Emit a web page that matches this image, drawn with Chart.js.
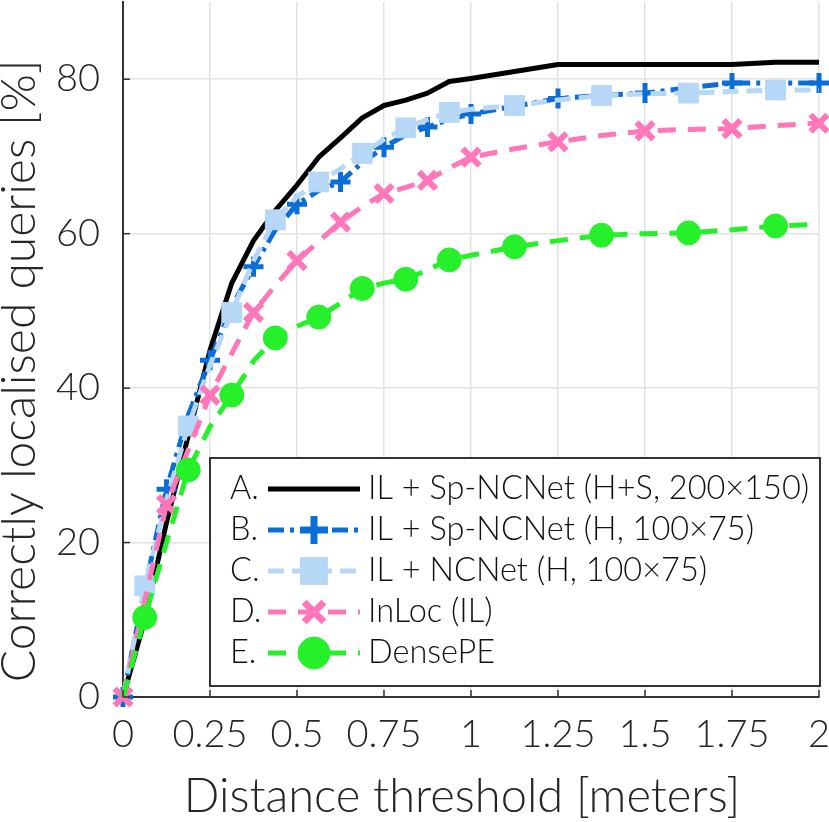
<!DOCTYPE html>
<html>
<head>
<meta charset="utf-8">
<script src="https://cdn.jsdelivr.net/npm/chart.js@4.4.1/dist/chart.umd.min.js"></script>
<style>
  html, body { margin: 0; padding: 0; background: #ffffff; }
  #wrap { width: 829px; height: 822px; }
</style>
</head>
<body>
<div id="wrap"><canvas id="c" width="829" height="822"></canvas></div>
<script>
// ---- data ----
const thresholds = [0, 0.0625, 0.125, 0.1875, 0.25, 0.3125, 0.375, 0.4375, 0.5, 0.5625, 0.625, 0.6875, 0.75, 0.8125, 0.875, 0.9375, 1, 1.125, 1.25, 1.375, 1.5, 1.625, 1.75, 1.875, 2];
const seriesA = [0, 10.0, 22.6, 33.8, 44.9, 53.6, 59.1, 63.0, 66.3, 69.9, 72.4, 75.0, 76.6, 77.3, 78.2, 79.7, 80.1, 81.0, 81.9, 81.9, 81.9, 81.9, 81.9, 82.2, 82.2];
const seriesB = [0, 14.0, 26.9, 36.5, 43.6, 50.5, 55.7, 60.5, 63.8, 65.6, 66.7, 69.2, 71.2, 72.8, 73.8, 74.8, 75.5, 76.5, 77.5, 77.9, 78.2, 78.9, 79.5, 79.5, 79.5];
const seriesC = [0, 14.4, 25.5, 35.1, 43.0, 49.8, 56.5, 61.8, 64.8, 66.7, 68.4, 70.4, 72.2, 73.7, 74.8, 75.7, 76.1, 76.6, 77.3, 77.9, 78.1, 78.2, 78.4, 78.6, 78.6];
const seriesD = [0, 12.5, 24.9, 32.0, 39.1, 44.5, 49.8, 53.3, 56.5, 59.0, 61.5, 63.5, 65.2, 66.0, 66.9, 68.5, 69.9, 71.0, 71.9, 72.7, 73.3, 73.5, 73.6, 74.0, 74.3];
const seriesE = [0, 10.3, 20.0, 29.4, 35.0, 39.1, 43.5, 46.5, 48.0, 49.2, 51.0, 52.9, 53.6, 54.1, 55.3, 56.6, 57.2, 58.3, 59.1, 59.8, 60.0, 60.1, 60.5, 61.0, 61.2];
const seriesLabels = ['IL + Sp-NCNet (H+S, 200\u00d7150)', 'IL + Sp-NCNet (H, 100\u00d775)', 'IL + NCNet (H, 100\u00d775)', 'InLoc (IL)', 'DensePE'];
const seriesLetters = ['A.', 'B.', 'C.', 'D.', 'E.'];
const xTickLabels = ['0', '0.25', '0.5', '0.75', '1', '1.25', '1.5', '1.75', '2'];
const yTickLabels = ['0', '20', '40', '60', '80'];
const xTitle = 'Distance threshold [meters]';
const yTitle = 'Correctly localised queries [%]';

const FONT = 'Lato, "Open Sans", "DejaVu Sans", sans-serif';
const toPts = vals => vals.map((v, i) => ({ x: thresholds[i], y: v }));
const evenR = r => ctx => (ctx.dataIndex % 2 === 0 ? r : 0);
const oddR = r => ctx => (ctx.dataIndex % 2 === 1 ? r : 0);

const datasets = [
  { label: seriesLabels[0], data: toPts(seriesA), borderColor: '#000000', borderWidth: 5, borderDash: [],
    pointRadius: 0, pointStyle: 'circle', order: 5 },
  { label: seriesLabels[1], data: toPts(seriesB), borderColor: '#0a6ed6', borderWidth: 5, borderDash: [16, 6, 4, 6],
    pointStyle: 'cross', pointRadius: evenR(10), pointBorderWidth: 5, pointBorderColor: '#0a6ed6', pointBackgroundColor: '#0a6ed6', legendRadius: 14, legendBorder: 7, order: 4 },
  { label: seriesLabels[2], data: toPts(seriesC), borderColor: '#b7d7f7', borderWidth: 5, borderDash: [16, 8],
    pointStyle: 'rect', pointRadius: oddR(14), pointBorderWidth: 1, pointBorderColor: '#b7d7f7', pointBackgroundColor: '#b7d7f7', legendRadius: 19, legendBorder: 1, order: 3 },
  { label: seriesLabels[3], data: toPts(seriesD), borderColor: '#ff76b9', borderWidth: 5, borderDash: [18, 12],
    pointStyle: 'crossRot', pointRadius: evenR(12), pointBorderWidth: 6, pointBorderColor: '#ff76b9', pointBackgroundColor: '#ff76b9', legendRadius: 14, legendBorder: 7, order: 2 },
  { label: seriesLabels[4], data: toPts(seriesE), borderColor: '#25f02a', borderWidth: 5, borderDash: [18, 12],
    pointStyle: 'circle', pointRadius: oddR(12), pointBorderWidth: 1, pointBorderColor: '#25f02a', pointBackgroundColor: '#25f02a', legendRadius: 16, legendBorder: 1, order: 1 }
].map(d => Object.assign({ fill: false, tension: 0, clip: false, pointHoverRadius: 0 }, d));

// inward tick marks on the axes + axis titles
const axisDecor = {
  id: 'axisDecor',
  afterDatasetsDraw(chart) {
    const { ctx, chartArea, scales } = chart;
    ctx.save();
    ctx.strokeStyle = '#333333';
    ctx.lineWidth = 1.5;
    scales.x.ticks.forEach(t => {
      const px = scales.x.getPixelForValue(t.value);
      ctx.beginPath(); ctx.moveTo(px, chartArea.bottom); ctx.lineTo(px, chartArea.bottom - 7); ctx.stroke();
    });
    scales.y.ticks.forEach(t => {
      const py = scales.y.getPixelForValue(t.value);
      ctx.beginPath(); ctx.moveTo(chartArea.left, py); ctx.lineTo(chartArea.left + 7, py); ctx.stroke();
    });
    ctx.fillStyle = '#262626';
    ctx.font = '300 47px ' + FONT;
    ctx.textAlign = 'center';
    ctx.textBaseline = 'alphabetic';
    ctx.fillText(xTitle, chartArea.left + 339, chartArea.bottom + 115);
    ctx.translate(chartArea.left - 88, chartArea.top + 369);
    ctx.rotate(-Math.PI / 2);
    ctx.font = '300 48px ' + FONT;
    ctx.fillText(yTitle, 0, 0);
    ctx.restore();
  }
};

// boxed legend inside the plot
const boxLegend = {
  id: 'boxLegend',
  afterDraw(chart) {
    const { ctx, chartArea } = chart;
    const x0 = chartArea.left + 87, x1 = chartArea.right + 1;
    const y0 = chartArea.bottom - 239, y1 = chartArea.bottom - 11;
    ctx.save();
    ctx.fillStyle = '#ffffff';
    ctx.fillRect(x0, y0, x1 - x0, y1 - y0);
    ctx.strokeStyle = '#333333';
    ctx.lineWidth = 2;
    ctx.strokeRect(x0, y0, x1 - x0, y1 - y0);
    const rowH = 41;
    chart.data.datasets.forEach((ds, i) => {
      const cy = y0 + 31 + i * rowH;
      ctx.font = '300 32.5px ' + FONT;
      ctx.fillStyle = '#111111';
      ctx.textBaseline = 'middle';
      ctx.textAlign = 'left';
      ctx.fillText(seriesLetters[i], x0 + 20, cy);
      ctx.fillText(ds.label, x0 + 158, cy);
      const lx0 = x0 + 58, lx1 = x0 + 150;
      ctx.save();
      ctx.setLineDash(ds.borderDash || []);
      ctx.lineWidth = ds.borderWidth;
      ctx.strokeStyle = ds.borderColor;
      ctx.beginPath(); ctx.moveTo(lx0, cy); ctx.lineTo(lx1, cy); ctx.stroke();
      ctx.restore();
      if (ds.legendRadius) {
        ctx.save();
        ctx.setLineDash([]);
        ctx.fillStyle = ds.pointBackgroundColor;
        ctx.strokeStyle = ds.pointBorderColor;
        ctx.lineWidth = ds.legendBorder;
        Chart.helpers.drawPoint(ctx, { pointStyle: ds.pointStyle, radius: ds.legendRadius, borderWidth: ds.legendBorder, rotation: 0 }, (lx0 + lx1) / 2, cy);
        ctx.restore();
      }
    });
    ctx.restore();
  }
};

new Chart(document.getElementById('c'), {
  type: 'line',
  data: { datasets },
  plugins: [axisDecor, boxLegend],
  options: {
    responsive: false,
    animation: false,
    devicePixelRatio: 1,
    layout: { autoPadding: false, padding: { top: 2, right: 10, left: 0, bottom: 0 } },
    plugins: { legend: { display: false }, tooltip: { enabled: false } },
    elements: { line: { borderCapStyle: 'butt', borderJoinStyle: 'round' } },
    scales: {
      x: {
        type: 'linear', min: 0, max: 2,
        afterFit: s => { s.height = 125; s.paddingLeft = 0; s.paddingRight = 0; },
        ticks: {
          stepSize: 0.25, padding: 15, color: '#262626', maxRotation: 0, autoSkip: false,
          font: { family: FONT, size: 38, weight: '300' },
          callback: (v) => { const k = Math.round(v / 0.25); return xTickLabels[k]; }
        },
        grid: { color: '#e2e2e2', lineWidth: 1.5, drawTicks: false },
        border: { display: true, color: '#333333', width: 2 },
        title: { display: false }
      },
      y: {
        type: 'linear', min: 0, max: 90,
        afterFit: s => { s.width = 123; s.paddingTop = 0; s.paddingBottom = 0; },
        afterBuildTicks: s => { s.ticks = s.ticks.filter(t => t.value % 20 === 0); },
        ticks: {
          stepSize: 20, padding: 23, color: '#262626',
          font: { family: FONT, size: 38, weight: '300' },
          callback: (v) => yTickLabels[Math.round(v / 20)]
        },
        grid: { color: '#e2e2e2', lineWidth: 1.5, drawTicks: false },
        border: { display: true, color: '#333333', width: 2 },
        title: { display: false }
      }
    }
  }
});
</script>
</body>
</html>
